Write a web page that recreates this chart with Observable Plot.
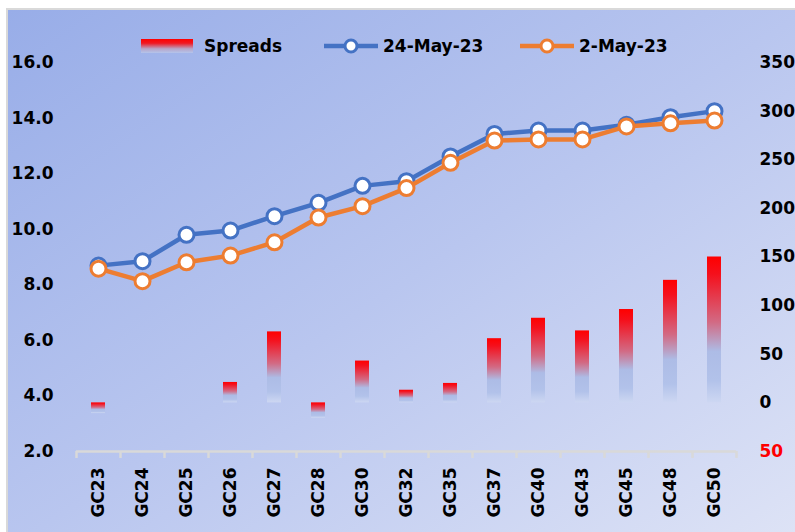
<!DOCTYPE html>
<html>
<head>
<meta charset="utf-8">
<script src="https://cdn.jsdelivr.net/npm/d3@7"></script>
<script src="https://cdn.jsdelivr.net/npm/@observablehq/plot@0.6"></script>
<style>
  html, body { margin: 0; padding: 0; background: #ffffff; }
  #wrap { position: relative; width: 795px; height: 532px; overflow: hidden; font-family: "DejaVu Sans", sans-serif; }
  #bg { position: absolute; left: 6px; top: 8px; width: 800px; height: 540px;
        border-left: 2px solid #d9d9d9; border-top: 2px solid #d9d9d9;
        background: linear-gradient(to bottom right, #98ade8 0%, #b9c6ef 50%, #dfe4f6 100%); }
  #chart { position: absolute; left: 0; top: 0; }
  #legend { position: absolute; left: 0; top: 0; width: 795px; height: 60px; font-weight: bold; font-size: 17px; color: #000; }
  #legend .item { position: absolute; top: 33px; display: flex; align-items: center; height: 26px; }
  #legend svg { display: block; }
</style>
</head>
<body>
<div id="wrap">
  <div id="bg"></div>
  <div id="chart"></div>
  <div id="legend">
    <div class="item" style="left:141px">
      <svg width="52" height="14"><defs><linearGradient id="lgGrad" x1="0" y1="0" x2="0" y2="1">
        <stop offset="0" stop-color="#ff0000"/><stop offset="0.3" stop-color="#f01822"/>
        <stop offset="0.7" stop-color="#b7a5c8"/><stop offset="1" stop-color="#b4c4ec"/></linearGradient></defs>
        <rect x="0" y="0" width="52" height="14" fill="url(#lgGrad)"/></svg>
      <span style="margin-left:11px">Spreads</span>
    </div>
    <div class="item" style="left:324px">
      <svg width="54" height="18"><line x1="0" y1="9" x2="54" y2="9" stroke="#4472c4" stroke-width="4.5"/>
        <circle cx="27" cy="9" r="6" fill="#fff" stroke="#4472c4" stroke-width="3"/></svg>
      <span style="margin-left:5px">24-May-23</span>
    </div>
    <div class="item" style="left:520px">
      <svg width="54" height="18"><line x1="0" y1="9" x2="54" y2="9" stroke="#ed7d31" stroke-width="4.5"/>
        <circle cx="27" cy="9" r="6" fill="#fff" stroke="#ed7d31" stroke-width="3"/></svg>
      <span style="margin-left:5px">2-May-23</span>
    </div>
  </div>
</div>
<script>
const categories = ["GC23","GC24","GC25","GC26","GC27","GC28","GC30","GC32","GC35","GC37","GC40","GC43","GC45","GC48","GC50"];
const may24 = [8.69, 8.85, 9.80, 9.95, 10.47, 10.95, 11.56, 11.73, 12.62, 13.43, 13.55, 13.55, 13.76, 14.03, 14.25];
const may2  = [8.58, 8.13, 8.81, 9.05, 9.53, 10.42, 10.83, 11.48, 12.39, 13.19, 13.23, 13.23, 13.70, 13.81, 13.91];
const spreads = [-11, 0, 0, 21, 73, -16, 43, 13, 20, 66, 87, 74, 96, 126, 150];
const leftTicks = [2, 4, 6, 8, 10, 12, 14, 16];
const rightTicks = [-50, 0, 50, 100, 150, 200, 250, 300, 350];

// right axis (-50..350) mapped onto left axis (2..16)
const toLeft = v => 2 + (v + 50) / 400 * 14;

const data = categories.map((c, i) => ({cat: c, a: may24[i], b: may2[i], s: spreads[i]}));
const bars = data.filter(d => d.s !== 0);

const W = 795, H = 532;
const plot = Plot.plot({
  width: W, height: H,
  marginLeft: 76, marginRight: 59, marginTop: 62, marginBottom: 81,
  style: {background: "transparent", fontFamily: "'DejaVu Sans', sans-serif", fontSize: "17px", fontWeight: "bold", color: "#000", overflow: "visible"},
  x: {type: "band", domain: categories, padding: 0},
  y: {domain: [2, 16]},
  marks: [
    Plot.barY(bars, {x: "cat", y1: () => toLeft(0), y2: d => toLeft(d.s), fill: "url(#barGrad)", insetLeft: 15, insetRight: 15}),
    Plot.ruleY([2], {stroke: "#d9d9d9", strokeWidth: 2.5}),
    Plot.ruleX(categories, {x: d => d, dx: -22, y1: 2, y2: 1.75, stroke: "#d9d9d9", strokeWidth: 2.5}),
    Plot.ruleX([categories[categories.length - 1]], {x: d => d, dx: 22, y1: 2, y2: 1.75, stroke: "#d9d9d9", strokeWidth: 2.5}),
    Plot.axisX({tickRotate: -90, tickSize: 0, tickPadding: 16, label: null, fontWeight: "bold"}),
    Plot.axisY({anchor: "left", ticks: leftTicks, tickFormat: d => d.toFixed(1), tickSize: 0, tickPadding: 23, label: null, fontWeight: "bold"}),
    Plot.text(rightTicks, {y: d => toLeft(d), text: d => String(Math.abs(d)), frameAnchor: "right", dx: 23, textAnchor: "start",
      fill: d => d < 0 ? "#ff0000" : "#000000", fontWeight: "bold"}),
    Plot.line(data, {x: "cat", y: "a", stroke: "#4472c4", strokeWidth: 4.5}),
    Plot.dot(data, {x: "cat", y: "a", r: 7.5, fill: "white", stroke: "#4472c4", strokeWidth: 3}),
    Plot.line(data, {x: "cat", y: "b", stroke: "#ed7d31", strokeWidth: 4.5}),
    Plot.dot(data, {x: "cat", y: "b", r: 7.5, fill: "white", stroke: "#ed7d31", strokeWidth: 3})
  ]
});
d3.select(plot).insert("defs", ":first-child").html(
  '<linearGradient id="barGrad" x1="0" y1="0" x2="0" y2="1">' +
  '<stop offset="0" stop-color="#ff0000"/>' +
  '<stop offset="0.12" stop-color="#f5101c"/>' +
  '<stop offset="0.45" stop-color="#d26a84"/>' +
  '<stop offset="0.65" stop-color="#adbce6"/>' +
  '<stop offset="0.85" stop-color="#b2c2ea"/>' +
  '<stop offset="1" stop-color="#cdd7f2"/>' +
  '</linearGradient>');
document.getElementById("chart").appendChild(plot);
</script>
</body>
</html>
